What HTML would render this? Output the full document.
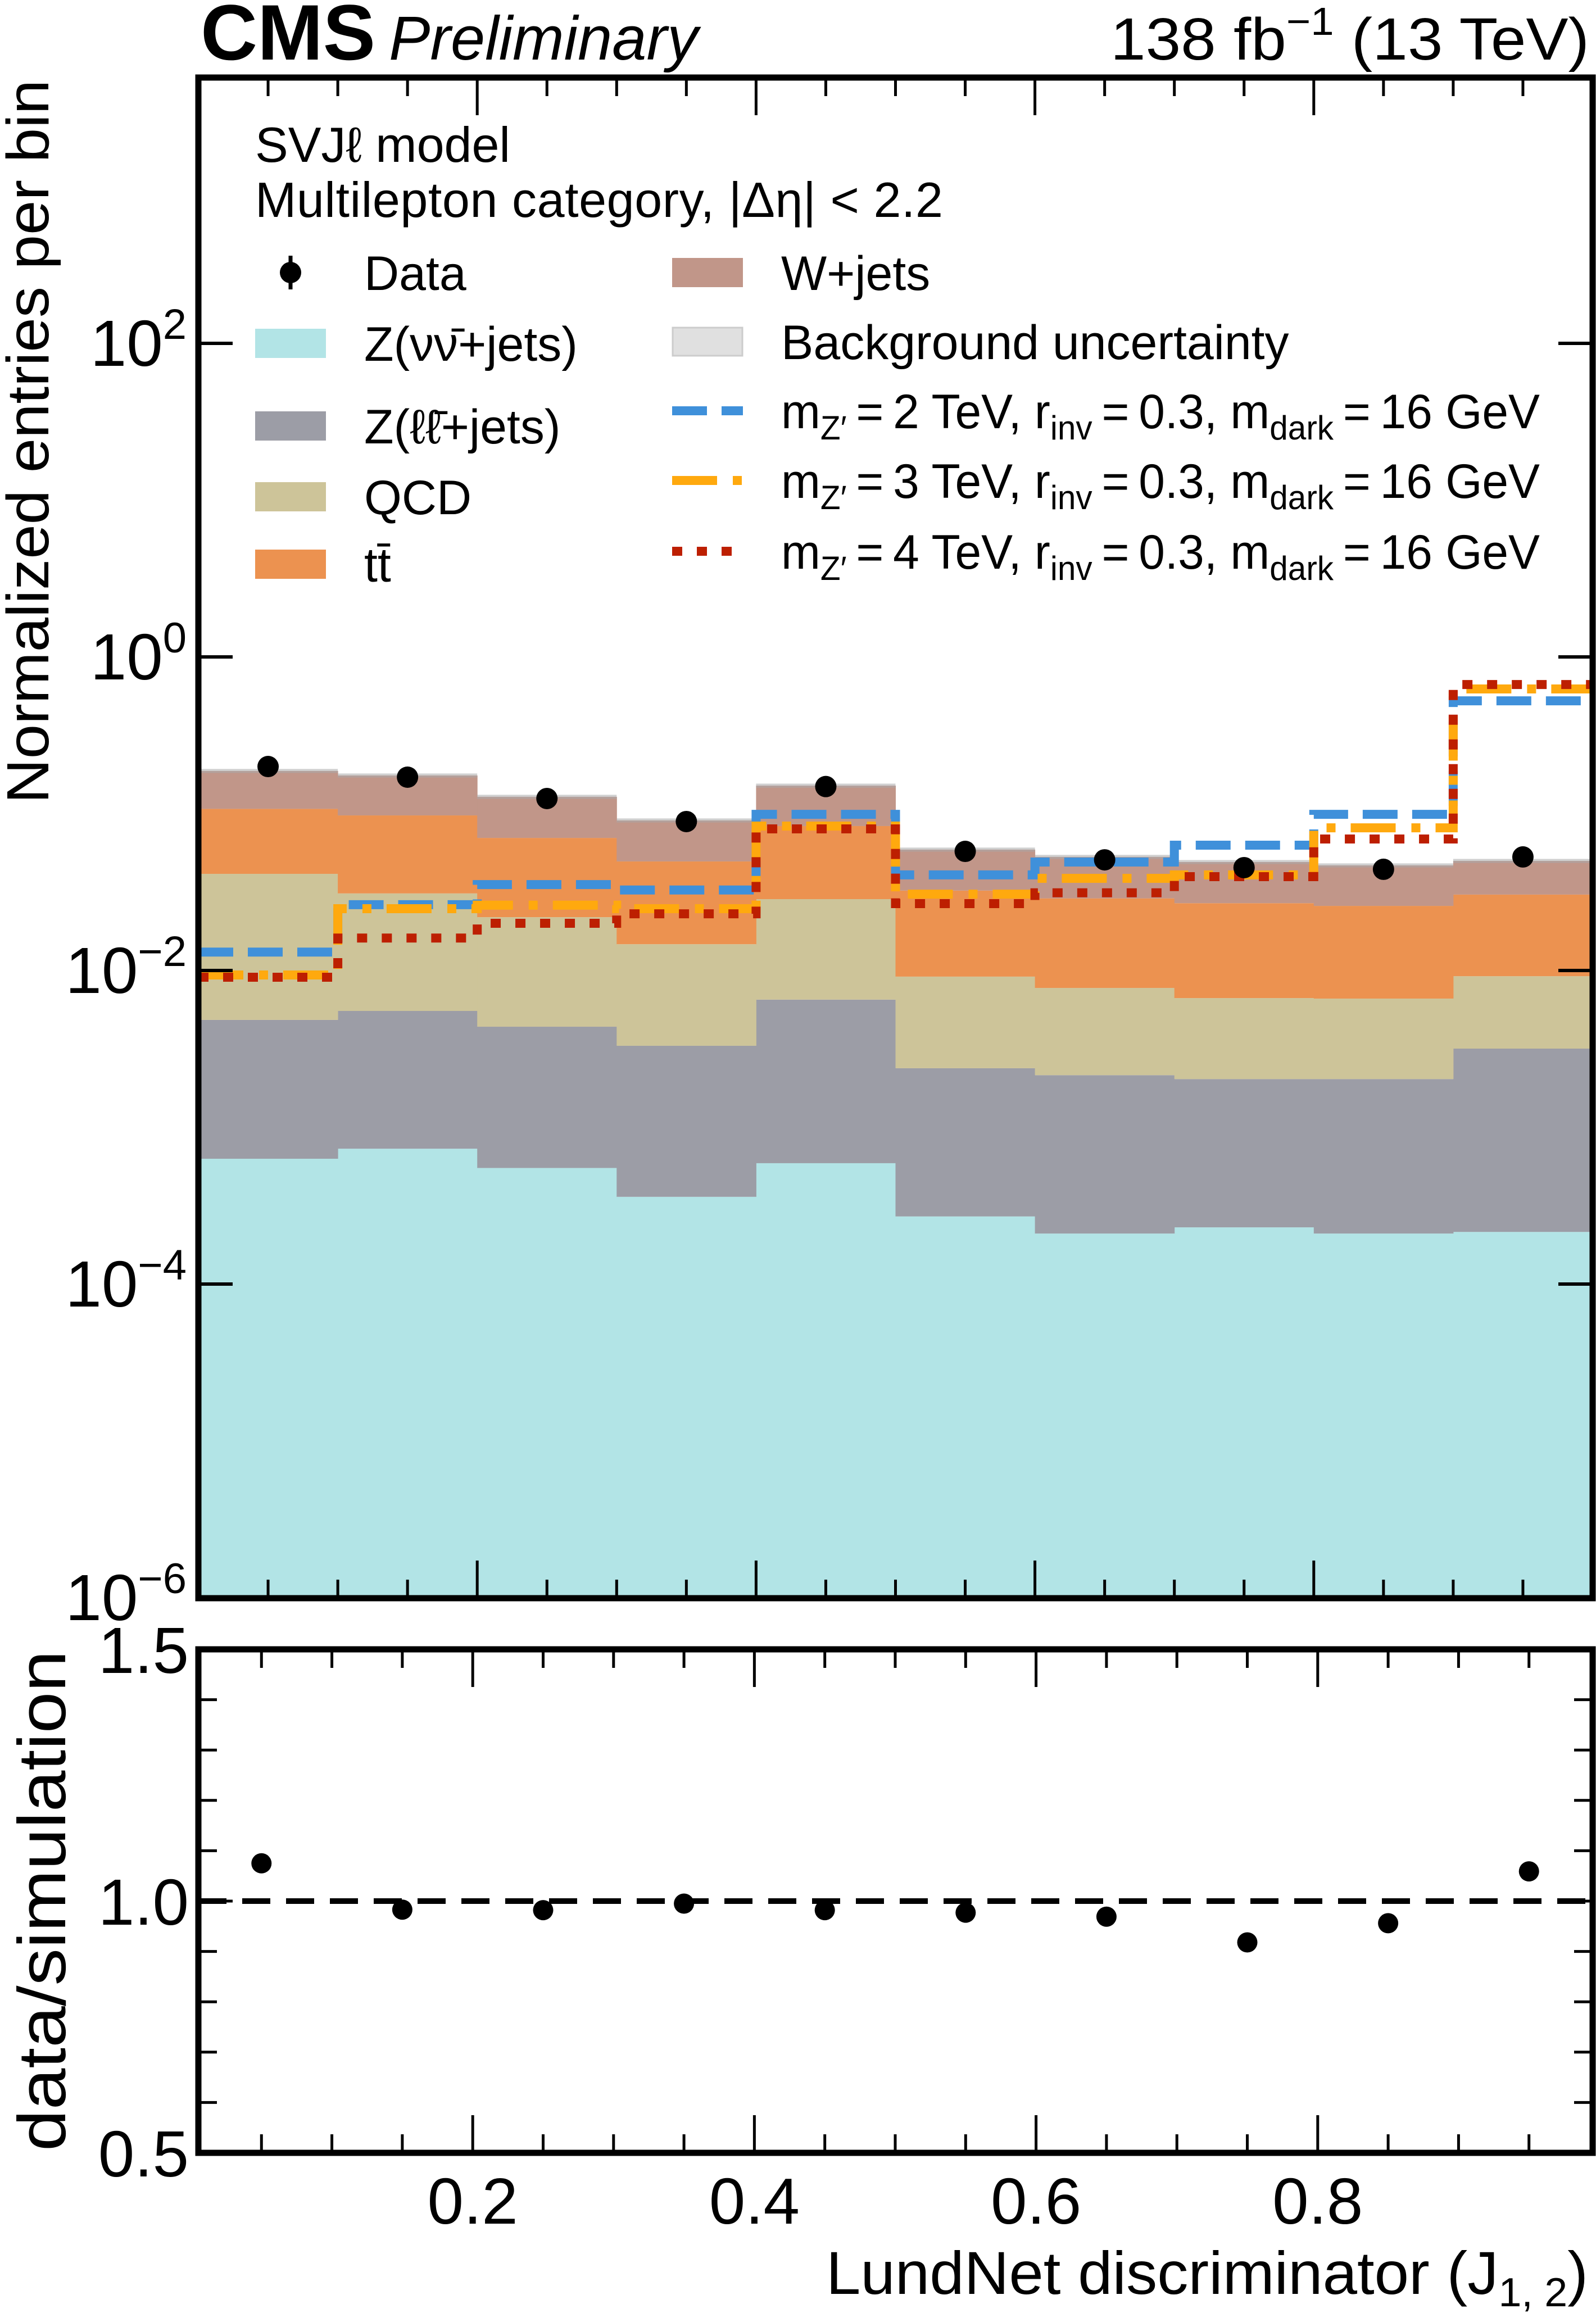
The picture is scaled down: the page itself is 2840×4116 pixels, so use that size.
<!DOCTYPE html>
<html><head><meta charset="utf-8"><style>
html,body{margin:0;padding:0;background:#fff;}
svg{display:block;font-family:"Liberation Sans",Arial,sans-serif;}
</style></head><body>
<svg id="chart" width="2840" height="4116" viewBox="0 0 2840 4116" xmlns="http://www.w3.org/2000/svg">
<g id="main-plot"></g>
<g id="ratio-plot"></g>
<text x="357" y="106" font-size="140" font-weight="bold">CMS</text>
<text x="692" y="106" font-size="110" font-style="italic">Preliminary</text>
<text x="2828" y="106" font-size="106" text-anchor="end" textLength="852" lengthAdjust="spacingAndGlyphs">138 fb<tspan font-size="70" dy="-44">−1</tspan><tspan dy="44"> (13 TeV)</tspan></text>
<text transform="translate(86,142) rotate(-90)" font-size="106" text-anchor="end" textLength="1288" lengthAdjust="spacingAndGlyphs">Normalized entries per bin</text>
<text transform="translate(116,2937) rotate(-90)" font-size="120" text-anchor="end" textLength="891" lengthAdjust="spacingAndGlyphs">data/simulation</text>
<text x="2826" y="4082" font-size="108" text-anchor="end" textLength="1356" lengthAdjust="spacingAndGlyphs">LundNet discriminator (J<tspan font-size="72" dy="22">1, 2</tspan><tspan dy="-22">)</tspan></text>
<g id="legend"></g>
</svg>
<script>
const NS="http://www.w3.org/2000/svg";
// ---- data ----
const binEdges=[0,0.1,0.2,0.3,0.4,0.5,0.6,0.7,0.8,0.9,1.0];
const zNuNu=[6.3e-4,7.3e-4,5.5e-4,3.6e-4,5.9e-4,2.7e-4,2.1e-4,2.3e-4,2.1e-4,2.15e-4];
const zLL=[4.21e-3,4.79e-3,3.83e-3,2.95e-3,5.93e-3,2.11e-3,1.94e-3,1.80e-3,1.82e-3,2.96e-3];
const qcd=[0.0365,0.0255,0.0175,0.0114,0.0220,0.00676,0.00559,0.00464,0.00459,0.00602];
const ttbar=[0.066,0.0665,0.0482,0.0349,0.0549,0.0232,0.0211,0.0202,0.0192,0.0213];
const wJets=[0.080,0.0778,0.0581,0.0410,0.0676,0.0267,0.0242,0.0223,0.0210,0.0195];
const dataVals=[0.200,0.171,0.125,0.0891,0.149,0.0575,0.0508,0.0453,0.0442,0.0530];
const sigMZ2=[0.0131,0.0263,0.0353,0.0326,0.0991,0.0407,0.0492,0.0630,0.0991,0.525];
const sigMZ3=[0.00936,0.0248,0.0261,0.0248,0.0834,0.0307,0.0387,0.0407,0.0813,0.625];
const sigMZ4=[0.00906,0.0161,0.0200,0.0230,0.0800,0.0267,0.0313,0.0397,0.0690,0.667];
const ratioVals=[1.075,0.983,0.982,0.995,0.982,0.977,0.969,0.918,0.956,1.059];
const yTickExps=[2,0,-2,-4,-6];
const ratioTicks=["0.5","1.0","1.5"];
const xTickLabels=["0.2","0.4","0.6","0.8"];

// ---- axes ----
const L=353,R=2834,T=138,B=2844;
const X=v=>L+(v-0)*(R-L);
const Y=v=>1169-279*Math.log10(v);
const RT=2935,RB=3831;
const RX0=0.0052,RX1=0.9952;
const XR=v=>L+(v-RX0)/(RX1-RX0)*(R-L);
const YR=v=>RB-(v-0.5)*(RB-RT);

function mk(tag,attrs,parent){const e=document.createElementNS(NS,tag);for(const k in attrs)e.setAttribute(k,attrs[k]);parent.appendChild(e);return e;}
const main=document.getElementById('main-plot');
const ratio=document.getElementById('ratio-plot');
const legend=document.getElementById('legend');

const defs=mk('defs',{},main);
const cp=mk('clipPath',{id:'clipMain'},defs);mk('rect',{x:L,y:T,width:R-L,height:B-T},cp);
const cp2=mk('clipPath',{id:'clipRatio'},defs);mk('rect',{x:L,y:RT,width:R-L,height:RB-RT},cp2);
const plotArea=mk('g',{'clip-path':'url(#clipMain)'},main);
mk('rect',{x:L,y:T,width:R-L,height:B-T,fill:'#fff'},plotArea);

const procs=[[zNuNu,'#b2e4e6','znunu'],[zLL,'#9c9da6','zll'],[qcd,'#cdc499','qcd'],[ttbar,'#ec9250','ttbar'],[wJets,'#c19689','wjets']];
const cum=new Array(10).fill(1e-7);
procs.forEach(([vals,col,nm],pi)=>{
  for(let i=0;i<10;i++){
    const lo=pi===0?1e-7:cum[i];
    const hi=(pi===0?0:cum[i])+vals[i];
    const r=mk('rect',{x:X(binEdges[i]),y:Y(hi),width:X(binEdges[i+1])-X(binEdges[i])+0.5,height:Y(lo)-Y(hi),fill:col},plotArea);
    
    
    cum[i]=hi;
  }
});
for(let i=0;i<10;i++){
  const u=mk('rect',{x:X(binEdges[i]),y:Y(cum[i]*1.03),width:X(binEdges[i+1])-X(binEdges[i]),height:Y(cum[i]*0.97)-Y(cum[i]*1.03),fill:'#aaa','fill-opacity':0.55},plotArea);
  
  
}
function stepPath(vals){let d='M'+X(binEdges[0])+','+Y(vals[0]);for(let i=0;i<vals.length;i++){if(i>0)d+=' V'+Y(vals[i]);d+=' H'+X(binEdges[i+1]);}return d;}
const sigs=[[sigMZ2,'#3f90da','62 26','signal-mz2'],[sigMZ3,'#ffa90e','80 28 16 27','signal-mz3'],[sigMZ4,'#bd1f01','18 26','signal-mz4']];
sigs.forEach(([v,c,da,nm])=>{
  const p=mk('path',{d:stepPath(v),fill:'none',stroke:c,'stroke-width':16,'stroke-dasharray':da},plotArea);
  
  
});
for(let i=0;i<10;i++){
  const cx=X((binEdges[i]+binEdges[i+1])/2);
  const c=mk('circle',{cx:cx,cy:Y(dataVals[i]),r:19,fill:'#000'},plotArea);
  
  
}
function ticksX(g,xf,top,bot){
  for(let k=1;k<20;k++){const v=k*0.05;const x=xf(v);if(x<L||x>R)continue;const len=(k%4===0)?67:33;
    mk('line',{x1:x,x2:x,y1:top,y2:top+len,stroke:'#000','stroke-width':5},g);
    mk('line',{x1:x,x2:x,y1:bot,y2:bot-len,stroke:'#000','stroke-width':5},g);}
}
ticksX(main,X,T,B);
yTickExps.forEach(e=>{const y=Y(Math.pow(10,e));
  mk('line',{x1:L,x2:L+61,y1:y,y2:y,stroke:'#000','stroke-width':6},main);
  mk('line',{x1:R,x2:R-61,y1:y,y2:y,stroke:'#000','stroke-width':6},main);
  const t=mk('text',{x:332,y:y+40,'font-size':116,'text-anchor':'end'},main);
  
  
  t.textContent='10';
  const s=mk('tspan',{'font-size':76,dy:-48},t);s.textContent=e<0?'−'+(-e):String(e);
});
const fr=mk('rect',{x:L,y:T,width:R-L,height:B-T,fill:'none',stroke:'#000','stroke-width':11},main);



// ratio
const ra=mk('g',{'clip-path':'url(#clipRatio)'},ratio);
mk('line',{x1:L,x2:R,y1:YR(1),y2:YR(1),stroke:'#000','stroke-width':10,'stroke-dasharray':'50 28'},ra);
for(let i=0;i<10;i++){
  const c=mk('circle',{cx:XR((binEdges[i]+binEdges[i+1])/2),cy:YR(ratioVals[i]),r:18,fill:'#000'},ra);
  
  
}
ticksX(ratio,XR,RT,RB);
for(let k=0;k<=10;k++){const y=YR(0.5+k*0.1);const len=(k%5===0)?61:33;
  mk('line',{x1:L,x2:L+len,y1:y,y2:y,stroke:'#000','stroke-width':5},ratio);
  mk('line',{x1:R,x2:R-len,y1:y,y2:y,stroke:'#000','stroke-width':5},ratio);}
ratioTicks.forEach(s=>{const t=mk('text',{x:336,y:YR(parseFloat(s))+42,'font-size':116,'text-anchor':'end'},ratio);
  
  
  t.textContent=s;});
xTickLabels.forEach(s=>{const t=mk('text',{x:XR(parseFloat(s)),y:3957,'font-size':116,'text-anchor':'middle'},ratio);
  
  
  t.textContent=s;});
const fr2=mk('rect',{x:L,y:RT,width:R-L,height:RB-RT,fill:'none',stroke:'#000','stroke-width':11},ratio);



// legend
function txt(x,y,s,fs){const t=mk('text',{x:x,y:y,'font-size':fs||86},legend);t.textContent=s;return t;}
const t1=txt(454,288,'SVJℓ model',88);


const t2=txt(454,386,'Multilepton category,  |Δη| < 2.2',88);


t2.setAttribute('xml:space','preserve');
t2.setAttribute('textLength','1224');
mk('line',{x1:517,x2:517,y1:455,y2:515,stroke:'#000','stroke-width':7},legend);
mk('circle',{cx:517,cy:485,r:19,fill:'#000'},legend);
const ld=txt(648,516,'Data');


const leftEntries=[['#b2e4e6',611,'Z(νν̄+jets)','legend-entry-znunu'],['#9c9da6',758,'Z(ℓℓ̄+jets)','legend-entry-zll'],['#cdc499',884,'QCD','legend-entry-qcd'],['#ec9250',1004,'tt̄','legend-entry-ttbar']];
leftEntries.forEach(([c,y,s,nm])=>{mk('rect',{x:454,y:y-26,width:126,height:52,fill:c},legend);
  const t=txt(648,y+31,s);
  
  });
mk('rect',{x:1196,y:459,width:126,height:52,fill:'#c19689'},legend);
const lw=txt(1390,516,'W+jets');


mk('rect',{x:1197,y:583,width:124,height:50,fill:'#e0e0e0',stroke:'#ccc','stroke-width':3},legend);
const lb=txt(1390,639,'Background uncertainty');


const sigEntries=[['#3f90da','62 26',731,'2','legend-entry-signal-mz2'],['#ffa90e','80 28 16 27',855,'3','legend-entry-signal-mz3'],['#bd1f01','18 26',981,'4','legend-entry-signal-mz4']];
sigEntries.forEach(([c,da,y,m,nm])=>{
  mk('line',{x1:1196,x2:1322,y1:y,y2:y,stroke:c,'stroke-width':16,'stroke-dasharray':da},legend);
  const t=mk('text',{x:1390,y:y+31,'font-size':86,textLength:1350,lengthAdjust:'spacingAndGlyphs'},legend);
  
  
  const parts=[['m',0],['Z′',1],['\u2009=\u2009'+m+' TeV, r',0],['inv',1],['\u2009=\u20090.3, m',0],['dark',1],['\u2009=\u200916 GeV',0]];
  let prev=0;
  parts.forEach(([s,sub])=>{const ts=mk('tspan',{},t);if(sub){ts.setAttribute('font-size',60);}
    const dy=(sub?20:0)-(prev?20:0);if(dy)ts.setAttribute('dy',dy);prev=sub;ts.textContent=s;});
});
</script>
</body></html>
